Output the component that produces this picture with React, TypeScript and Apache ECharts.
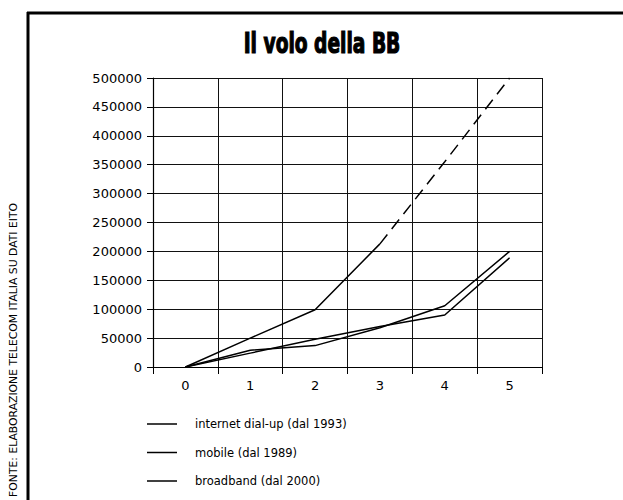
import React, { useEffect, useRef } from "react";
import * as echarts from "echarts";

const categories = ["0", "1", "2", "3", "4", "5"];
const seriesNames = ["internet dial-up (dal 1993)", "mobile (dal 1989)", "broadband (dal 2000)"];
const internetDialup = [0, 24000, 48000, 70000, 90000, 189000];
const mobile = [0, 29000, 37000, 68000, 106000, 200000];
const broadbandActual = [0, 50000, 99000, 213000, null, null];
const broadbandForecast = [null, null, null, 213000, 355000, 500000];
const yMin = 0;
const yMax = 500000;
const yInterval = 50000;
const titleText = "Il volo della BB";
const sourceText = "FONTE: ELABORAZIONE TELECOM ITALIA SU DATI EITO";

export default function App() {
  const ref = useRef<HTMLDivElement>(null);
  useEffect(() => {
    if (!ref.current) return;
    const chart = echarts.init(ref.current, null, { renderer: "svg" });
    const lineStyle = { color: "#000", width: 1.5 };
    chart.setOption({
      animation: false,
      backgroundColor: "#fff",
      grid: { left: 153, right: 81, top: 78, bottom: 133 },
      xAxis: {
        type: "category",
        data: categories,
        boundaryGap: true,
        axisLine: { lineStyle: { color: "#000", width: 1.2 } },
        axisTick: { show: true, length: 7, lineStyle: { color: "#000" } },
        axisLabel: { color: "#000", fontSize: 13, fontFamily: "DejaVu Sans", margin: 12 },
        splitLine: { show: true, lineStyle: { color: "#111", width: 1 } },
      },
      yAxis: {
        type: "value",
        min: yMin,
        max: yMax,
        interval: yInterval,
        axisLine: { show: true, lineStyle: { color: "#000", width: 1.2 } },
        axisTick: { show: true, length: 6, lineStyle: { color: "#000" } },
        axisLabel: {
          color: "#000",
          fontSize: 13,
          fontFamily: "DejaVu Sans",
          margin: 11,
          formatter: (v: number) => String(v),
        },
        splitLine: { show: true, lineStyle: { color: "#111", width: 1 } },
      },
      legend: {
        data: seriesNames,
        orient: "vertical",
        left: 147,
        top: 418,
        padding: 0,
        icon: "rect",
        itemWidth: 30,
        itemHeight: 1.5,
        itemGap: 16.5,
        textStyle: { color: "#000", fontSize: 11.5, fontFamily: "DejaVu Sans", padding: [0, 0, 0, 13] },
      },
      series: [
        { name: seriesNames[0], type: "line", data: internetDialup, symbol: "none", lineStyle, itemStyle: { color: "#000" } },
        { name: seriesNames[1], type: "line", data: mobile, symbol: "none", lineStyle, itemStyle: { color: "#000" } },
        { name: seriesNames[2], type: "line", data: broadbandActual, symbol: "none", lineStyle, itemStyle: { color: "#000" } },
        {
          name: "broadband forecast",
          type: "line",
          data: broadbandForecast,
          symbol: "none",
          lineStyle: { color: "#000", width: 1.5, type: [12, 7] },
          itemStyle: { color: "#000" },
        },
      ],
      graphic: [
        {
          type: "line",
          shape: { x1: 28, y1: 12, x2: 28, y2: 500 },
          style: { stroke: "#000", lineWidth: 3 },
        },
        {
          type: "line",
          shape: { x1: 27, y1: 13, x2: 623, y2: 13 },
          style: { stroke: "#000", lineWidth: 3 },
        },
        {
          type: "text",
          x: 322,
          y: 43,
          scaleX: 0.74,
          style: {
            text: titleText,
            fill: "#000",
            stroke: "#000",
            lineWidth: 1.2,
            font: "900 28px 'DejaVu Sans Condensed', sans-serif",
            textAlign: "center",
            textVerticalAlign: "middle",
          },
        },
        {
          type: "text",
          x: 13,
          y: 203,
          rotation: Math.PI / 2,
          style: {
            text: sourceText,
            fill: "#000",
            font: "10.8px 'DejaVu Sans', sans-serif",
            textAlign: "right",
            textVerticalAlign: "middle",
          },
        },
      ],
    });
    return () => chart.dispose();
  }, []);
  return <div ref={ref} style={{ position: "fixed", left: 0, top: 0, width: 623, height: 500 }} />;
}
